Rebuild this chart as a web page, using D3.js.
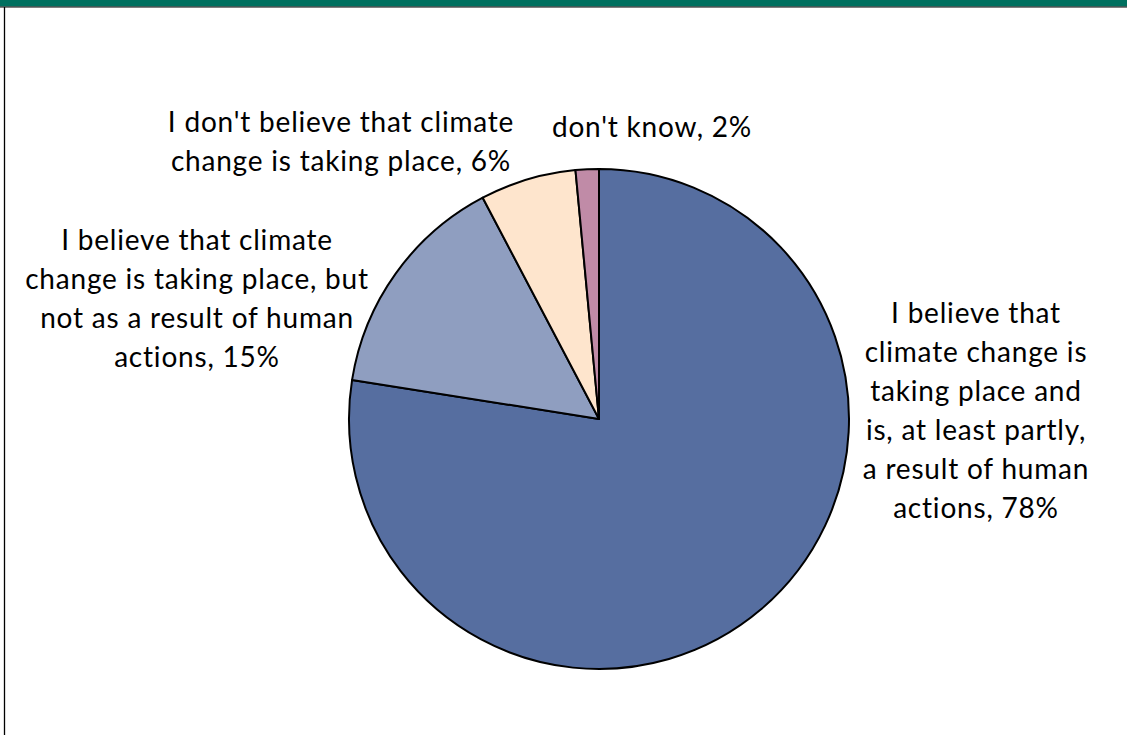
<!DOCTYPE html>
<html>
<head>
<meta charset="utf-8">
<script src="https://cdn.jsdelivr.net/npm/d3@7"></script>
<style>
  html, body { margin: 0; padding: 0; background: #fff; }
  svg { display: block; }
</style>
</head>
<body>
<div id="chart"></div>
<script>
// slices, clockwise from 12 o'clock
const categories = [
  'I believe that climate change is taking place and is, at least partly, a result of human actions',
  'I believe that climate change is taking place, but not as a result of human actions',
  "I don't believe that climate change is taking place",
  "don't know"
];
const values = [77.5, 14.8, 6.2, 1.5];
const valueLabels = ['78%', '15%', '6%', '2%'];
// how each label wraps
const labelLines = [
  ['I believe that', 'climate change is', 'taking place and', 'is, at least partly,', 'a result of human', 'actions, 78%'],
  ['I believe that climate', 'change is taking place, but', 'not as a result of human', 'actions, 15%'],
  ["I don't believe that climate", 'change is taking place, 6%'],
  ["don't know, 2%"]
];
const colors = ['#566ea0', '#8f9ec0', '#fee5cd', '#c08ba7'];

const width = 1127, height = 735;
const cx = 599, cy = 419, radius = 250;
// label anchor (center x, first baseline y) relative to the pie centre
const labelOffsets = [[377, -96], [-402, -169], [-258, -287], [53, -282]];
const lineHeight = 39;

const svg = d3.select('#chart')
  .append('svg')
  .attr('width', width)
  .attr('height', height);

// frame
svg.append('rect').attr('x', 0).attr('y', 0).attr('width', width).attr('height', 6.5).attr('fill', '#00705f');
svg.append('line').attr('x1', 0).attr('x2', width).attr('y1', 7).attr('y2', 7).attr('stroke', '#000').attr('stroke-width', 1.2);
svg.append('line').attr('x1', 4.5).attr('x2', 4.5).attr('y1', 7).attr('y2', height).attr('stroke', '#000').attr('stroke-width', 1.3);

const g = svg.append('g')
  .attr('transform', `translate(${cx},${cy})`);

const pie = d3.pie().sort(null).value(d => d);
const arc = d3.arc().innerRadius(0).outerRadius(radius);

const arcs = pie(values);

g.selectAll('path.slice')
  .data(arcs)
  .enter()
  .append('path')
  .attr('class', 'slice')
  .attr('d', arc)
  .attr('fill', (_, i) => colors[i])
  .attr('stroke', '#000')
  .attr('stroke-width', 2)
  .attr('stroke-linejoin', 'round');

const labels = g.selectAll('text.label')
  .data(arcs)
  .enter()
  .append('text')
  .attr('class', 'label')
  .attr('text-anchor', 'middle')
  .attr('font-family', 'Lato, "Open Sans", sans-serif')
  .attr('font-size', 28)
  .attr('letter-spacing', 0.8)
  .attr('fill', '#000');

labels.each(function (d, i) {
  const t = d3.select(this);
  labelLines[i].forEach((line, j) => {
    t.append('tspan')
      .attr('x', labelOffsets[i][0])
      .attr('y', labelOffsets[i][1] + j * lineHeight)
      .text(line);
  });
});
</script>
</body>
</html>
